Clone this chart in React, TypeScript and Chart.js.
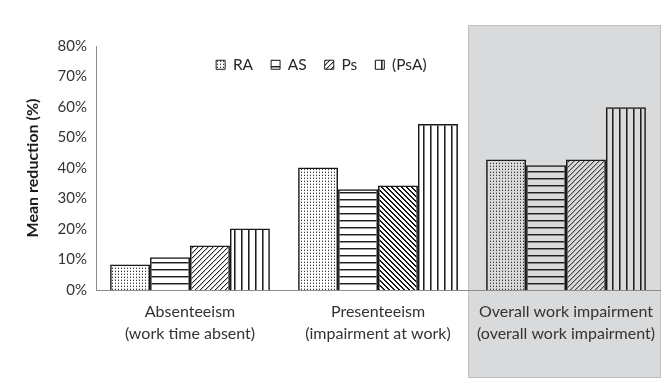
import React, { useEffect, useRef } from 'react';
import { Chart, registerables } from 'chart.js';

Chart.register(...registerables);

const categoryTitles = ['Absenteeism', 'Presenteeism', 'Overall work impairment'];
const categorySubtitles = ['(work time absent)', '(impairment at work)', '(overall work impairment)'];
const seriesNames = ['RA', 'AS', 'Ps', '(PsA)'];
const raValues = [8.4, 40.2, 42.8];
const asValues = [10.7, 33.0, 40.9];
const psValues = [14.6, 34.3, 42.8];
const psaValues = [20.2, 54.4, 59.9];
const yTickValues = [0, 10, 20, 30, 40, 50, 60, 70, 80];
const highlightedCategory = 2;

const FONT = 'Lato, "Open Sans", sans-serif';

function makePattern(ctx: CanvasRenderingContext2D, w: number, h: number, draw: (g: CanvasRenderingContext2D) => void) {
  const c = document.createElement('canvas');
  c.width = w;
  c.height = h;
  const g = c.getContext('2d')!;
  draw(g);
  return ctx.createPattern(c, 'repeat')!;
}

export default function App() {
  const canvasRef = useRef<HTMLCanvasElement | null>(null);

  useEffect(() => {
    const canvas = canvasRef.current!;
    const ctx = canvas.getContext('2d')!;

    const dots = makePattern(ctx, 3, 3, (g) => {
      g.fillStyle = '#3a3a3a';
      g.fillRect(1, 1, 1, 1);
      g.fillStyle = 'rgba(60,60,60,0.35)';
      g.fillRect(1, 0, 1, 1);
    });
    const horiz = makePattern(ctx, 4, 7, (g) => {
      g.fillStyle = '#1e1e1e';
      g.fillRect(0, 3, 4, 1);
      g.fillStyle = 'rgba(30,30,30,0.45)';
      g.fillRect(0, 4, 4, 1);
    });
    const fwdDiag = (color: string) =>
      makePattern(ctx, 5, 5, (g) => {
        for (let i = 0; i < 5; i++) {
          g.fillStyle = color;
          g.fillRect(i, 4 - i, 1, 1);
          g.fillStyle = 'rgba(50,50,50,0.3)';
          g.fillRect(i, (5 - i) % 5, 1, 1);
        }
      });
    const backDiag = makePattern(ctx, 5, 5, (g) => {
      for (let i = 0; i < 5; i++) {
        g.fillStyle = '#1a1a1a';
        g.fillRect(i, i, 1, 1);
        g.fillRect(i, (i + 1) % 5, 1, 1);
      }
    });
    const vert = makePattern(ctx, 7, 4, (g) => {
      g.fillStyle = '#1e1e1e';
      g.fillRect(3, 0, 1, 4);
      g.fillStyle = 'rgba(30,30,30,0.55)';
      g.fillRect(4, 0, 1, 4);
    });

    const fwd = fwdDiag('#2a2a2a');
    const fwdLight = fwdDiag('#444');

    const highlightPlugin = {
      id: 'highlightBox',
      beforeDraw(chart: any) {
        const x = chart.scales.x;
        const ca = chart.chartArea;
        const center = x.getPixelForValue(highlightedCategory);
        const cw = (ca.right - ca.left) / categoryTitles.length;
        const left = center - cw * 0.52;
        const right = center + cw * 0.5;
        const top = ca.top - 21;
        const bottom = ca.bottom + 87;
        const c = chart.ctx;
        c.save();
        c.fillStyle = '#d9dadc';
        c.fillRect(left, top, right - left, bottom - top);
        c.strokeStyle = '#bfbfbf';
        c.lineWidth = 1;
        c.strokeRect(Math.round(left) + 0.5, Math.round(top) + 0.5, Math.round(right - left), Math.round(bottom - top));
        c.restore();
      },
    };

    const legendPlacer = {
      id: 'legendPlacer',
      beforeLayout(chart: any) {
        if (chart.legend) chart.legend.isHorizontal = () => true;
      },
      afterLayout(chart: any) {
        const l = chart.legend;
        const ca = chart.chartArea;
        if (!l) return;
        const pad = l.options.labels.padding;
        l.left = ca.left + (ca.right - ca.left) * 0.213 - pad;
        l.right = ca.right;
        l.top = ca.top + 11 - pad;
      },
    };

    const chart = new Chart(ctx, {
      type: 'bar',
      data: {
        labels: categoryTitles.map((t, i) => [t, categorySubtitles[i]]),
        datasets: [
          { label: seriesNames[0], data: raValues, backgroundColor: dots, borderColor: '#1a1a1a', borderWidth: 1.5 },
          { label: seriesNames[1], data: asValues, backgroundColor: horiz, borderColor: '#1a1a1a', borderWidth: 1.5 },
          { label: seriesNames[2], data: psValues, backgroundColor: [fwd, backDiag, fwdLight], borderColor: '#1a1a1a', borderWidth: 1.5 },
          { label: seriesNames[3], data: psaValues, backgroundColor: vert, borderColor: '#1a1a1a', borderWidth: 1.5 },
        ] as any,
      },
      options: {
        responsive: false,
        animation: false,
        layout: { padding: { top: 46, right: 10, bottom: 0, left: 0 } },
        datasets: { bar: { categoryPercentage: 0.85, barPercentage: 1.0 } } as any,
        plugins: {
          tooltip: { enabled: false },
          legend: {
            position: 'chartArea' as any,
            align: 'start',
            labels: {
              boxWidth: 9,
              boxHeight: 9,
              padding: 18,
              color: '#262626',
              font: { family: FONT, size: 15.5 },
              generateLabels(chart: any) {
                return chart.data.datasets.map((ds: any, i: number) => ({
                  text: ds.label,
                  fillStyle: Array.isArray(ds.backgroundColor) ? ds.backgroundColor[0] : ds.backgroundColor,
                  strokeStyle: '#1a1a1a',
                  lineWidth: 1,
                  hidden: false,
                  datasetIndex: i,
                  fontColor: '#262626',
                }));
              },
            },
          },
        },
        scales: {
          x: {
            grid: { display: false, drawTicks: false },
            border: { display: true, color: '#8c8c8c', width: 1 },
            ticks: {
              color: '#333',
              padding: 11,
              maxRotation: 0,
              autoSkip: false,
              font: { family: FONT, size: 16, lineHeight: 1.38 },
            },
            afterFit(scale: any) {
              scale.height = 97;
            },
          },
          y: {
            min: 0,
            max: 80,
            afterBuildTicks(scale: any) {
              scale.ticks = yTickValues.map((v) => ({ value: v }));
            },
            grid: { display: false, drawTicks: false },
            border: { display: true, color: '#8c8c8c', width: 1 },
            ticks: {
              color: '#333',
              padding: 9,
              font: { family: FONT, size: 15 },
              callback: (v: any) => `${v}%`,
            },
            title: {
              display: true,
              text: 'Mean reduction (%)',
              color: '#1a1a1a',
              font: { family: FONT, size: 16, weight: 'bold' },
              padding: { top: 23, bottom: 0 },
            },
            afterFit(scale: any) {
              scale.width = 96;
            },
          },
        },
      },
      plugins: [highlightPlugin, legendPlacer],
    });

    return () => chart.destroy();
  }, []);

  return (
    <div style={{ position: 'absolute', left: 0, top: 0, width: 670, height: 387, background: '#fff' }}>
      <canvas ref={canvasRef} width={670} height={387} style={{ display: 'block' }} />
    </div>
  );
}
